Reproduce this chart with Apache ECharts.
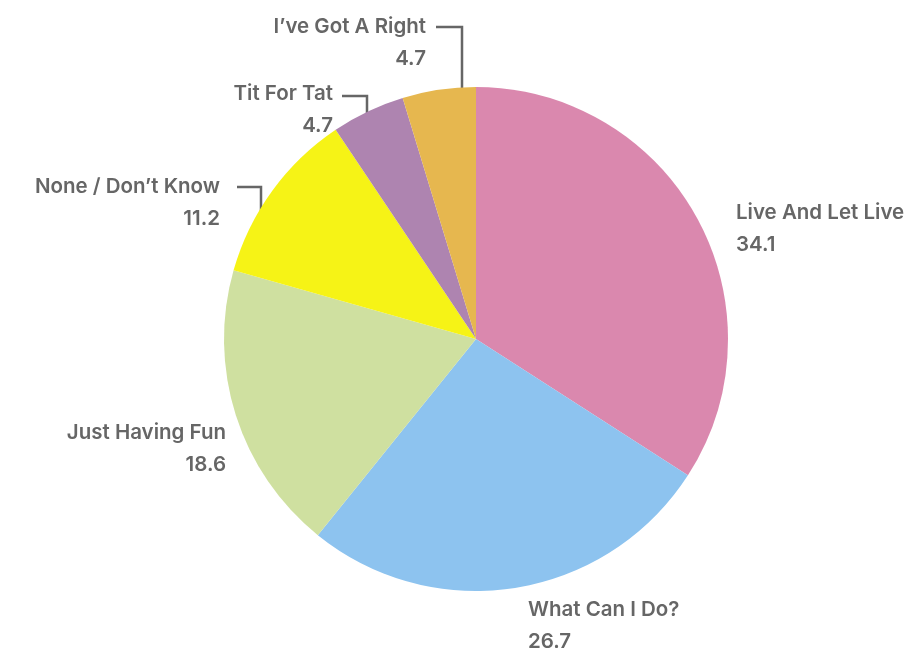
<!DOCTYPE html>
<html><head><meta charset="utf-8">
<script src="https://cdn.jsdelivr.net/npm/echarts@6/dist/echarts.min.js"></script>
<style>html,body{margin:0;padding:0;background:#fff}#c{width:919px;height:652px}</style>
</head><body><div id="c"></div>
<script>
const categories = ['Live And Let Live', 'What Can I Do?', 'Just Having Fun', 'None / Don’t Know', 'Tit For Tat', 'I’ve Got A Right'];
const values = [34.1, 26.7, 18.6, 11.2, 4.7, 4.7];
const colors = ['#DA88AE', '#8DC3EF', '#CFE0A0', '#F6F316', '#AE84B0', '#E6B74F'];

// label placement (styling only)
const labelPos = [
  {x: 736, y: 229, align: 'left'},
  {x: 528, y: 626, align: 'left'},
  {x: 226, y: 449, align: 'right'},
  {x: 220, y: 203, align: 'right'},
  {x: 333, y: 110, align: 'right'},
  {x: 426, y: 43, align: 'right'}
];
const leaders = {
  3: [[261, 228], [261, 187], [237, 187]],
  4: [[367, 137], [367, 96], [342, 96]],
  5: [[462, 116], [462, 27], [436, 27]]
};

const chart = echarts.init(document.getElementById('c'));
chart.setOption({
  animation: false,
  series: [{
    type: 'pie',
    center: [476, 339],
    radius: 252,
    startAngle: 90,
    clockwise: true,
    data: categories.map((n, i) => ({
      name: n, value: values[i],
      itemStyle: {color: colors[i]},
      labelLine: {show: !!leaders[i]}
    })),
    itemStyle: {borderWidth: 0},
    label: {
      show: true,
      position: 'outside',
      formatter: '{b}\n{c}',
      color: '#666',
      fontFamily: 'Inter',
      fontWeight: 600,
      fontSize: 20.5,
      lineHeight: 32,
      overflow: 'none'
    },
    labelLine: {
      show: true,
      lineStyle: {color: '#666', width: 2.5}
    },
    labelLayout: function (p) {
      const lp = labelPos[p.dataIndex];
      const r = {x: lp.x, y: lp.y, align: lp.align, verticalAlign: 'middle'};
      if (leaders[p.dataIndex]) r.labelLinePoints = leaders[p.dataIndex];
      return r;
    }
  }]
});
</script></body></html>
